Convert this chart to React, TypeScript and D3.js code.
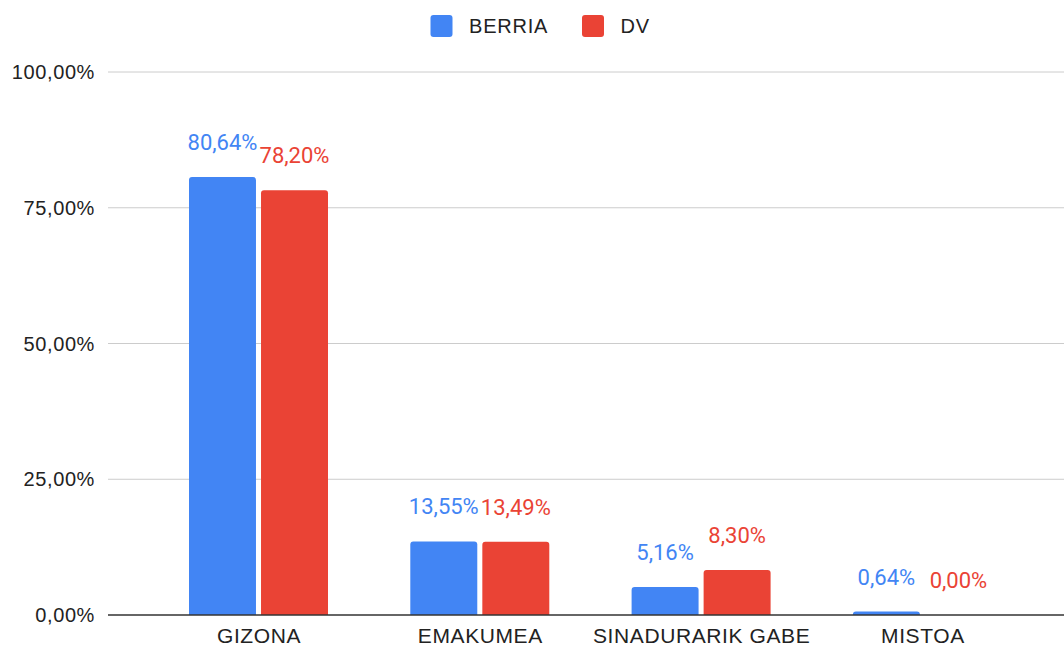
import { useRef, useEffect } from 'react'
import * as d3 from 'd3'

const categories = ['GIZONA', 'EMAKUMEA', 'SINADURARIK GABE', 'MISTOA']
const seriesNames = ['BERRIA', 'DV']
const berria = [80.64, 13.55, 5.16, 0.64]
const dv = [78.2, 13.49, 8.3, 0.0]
const yTicks = [0, 25, 50, 75, 100]
const colors = ['#4285f4', '#ea4335']

const fmt = (v: number) => v.toFixed(2).replace('.', ',') + '%'

// bar with rounded top corners only
const barPath = (x: number, y: number, w: number, h: number, r: number) => {
  if (h <= 0) return ''
  const rr = Math.min(r, h, w / 2)
  return `M${x},${y + h}V${y + rr}Q${x},${y} ${x + rr},${y}H${x + w - rr}Q${x + w},${y} ${x + w},${y + rr}V${y + h}Z`
}

const App = () => {
  const svgRef = useRef<SVGSVGElement>(null)

  useEffect(() => {
    const w = 1064
    const h = 648
    const svg = d3.select(svgRef.current)
      .attr('width', w)
      .attr('height', h)
    svg.selectAll('*').remove()

    const left = 108
    const right = 1064
    const yScale = d3.scaleLinear().domain([0, 100]).range([615, 72])
    const x0 = d3.scaleBand().domain(categories).range([148.4, 1033.6])
    const x1 = d3.scaleBand().domain(seriesNames).range([40.6, 179.6]).paddingInner(0.07)

    const labelFont = 'Roboto, "Liberation Sans", Arial, sans-serif'
    const textFont = '"Liberation Sans", Arial, Helvetica, sans-serif'

    // gridlines
    svg.append('g')
      .selectAll('line')
      .data(yTicks.filter(t => t !== 0))
      .join('line')
        .attr('x1', left)
        .attr('x2', right)
        .attr('y1', d => yScale(d))
        .attr('y2', d => yScale(d))
        .attr('stroke', '#cccccc')
        .attr('stroke-width', 1)

    // y tick labels
    svg.append('g')
      .selectAll('text')
      .data(yTicks)
      .join('text')
        .attr('x', 95)
        .attr('y', d => yScale(d))
        .attr('dy', '0.35em')
        .attr('text-anchor', 'end')
        .attr('font-family', textFont)
        .attr('font-size', 20)
        .attr('letter-spacing', 0.6)
        .attr('fill', '#222')
        .text(d => d.toFixed(2).replace('.', ',') + '%')

    const data = categories.map((c, i) => ({ cat: c, values: [berria[i], dv[i]] }))

    const groups = svg.append('g')
      .selectAll('g')
      .data(data)
      .join('g')
        .attr('transform', d => `translate(${x0(d.cat)},0)`)

    groups.selectAll('path')
      .data(d => d.values.map((v, j) => ({ v, s: seriesNames[j], j })))
      .join('path')
        .attr('d', d => barPath(x1(d.s)!, yScale(d.v), x1.bandwidth(), yScale(0) - yScale(d.v), 3))
        .attr('fill', d => colors[d.j])

    groups.selectAll('text')
      .data(d => d.values.map((v, j) => ({ v, s: seriesNames[j], j })))
      .join('text')
        .attr('x', d => x1(d.s)! + x1.bandwidth() / 2)
        .attr('y', d => yScale(d.v) - 27)
        .attr('text-anchor', 'middle')
        .attr('font-family', labelFont)
        .attr('font-size', 22)
        .attr('fill', d => colors[d.j])
        .text(d => fmt(d.v))

    // baseline
    svg.append('line')
      .attr('x1', left)
      .attr('x2', right)
      .attr('y1', yScale(0))
      .attr('y2', yScale(0))
      .attr('stroke', '#333')
      .attr('stroke-width', 1.3)

    // category labels
    svg.append('g')
      .selectAll('text')
      .data(categories)
      .join('text')
        .attr('x', d => x0(d)! + x0.bandwidth() / 2)
        .attr('y', 643)
        .attr('text-anchor', 'middle')
        .attr('font-family', textFont)
        .attr('font-size', 21)
        .attr('letter-spacing', 0.6)
        .attr('fill', '#222')
        .text(d => d)

    // legend
    const legendX = [430.5, 582]
    const legend = svg.append('g')
      .selectAll('g')
      .data(seriesNames)
      .join('g')
        .attr('transform', (d, i) => `translate(${legendX[i]},15)`)
    legend.append('rect')
      .attr('width', 22)
      .attr('height', 22)
      .attr('rx', 3)
      .attr('fill', (d, i) => colors[i])
    legend.append('text')
      .attr('x', 38.5)
      .attr('y', 18)
      .attr('font-family', textFont)
      .attr('font-size', 20)
      .attr('letter-spacing', 0.8)
      .attr('fill', '#222')
      .text(d => d)
  }, [])

  return (
    <div style={{ position: 'absolute', left: 0, top: 0 }}>
      <svg ref={svgRef} style={{ display: 'block' }}></svg>
    </div>
  )
}

export default App
